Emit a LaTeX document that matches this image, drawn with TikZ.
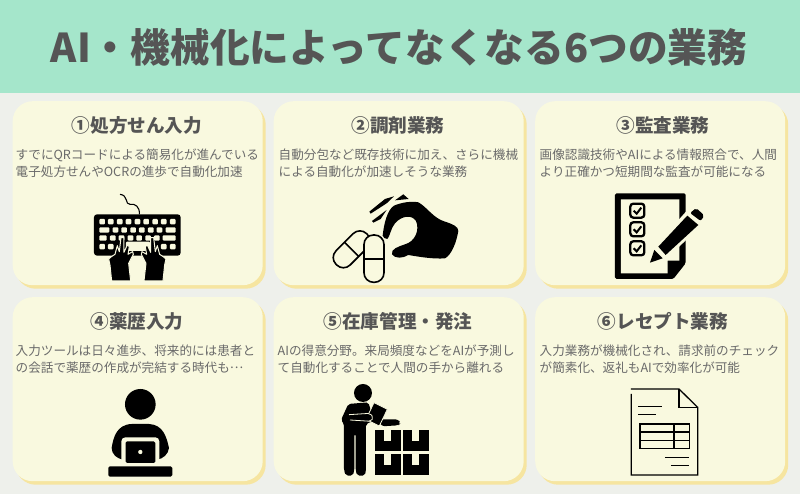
\documentclass[tikz,border=0pt]{standalone}
\usepackage{fontspec}
\setmainfont{Noto Sans CJK JP}
\definecolor{headerbg}{HTML}{A5E6CB}
\definecolor{pagebg}{HTML}{EEF0EB}
\definecolor{cardbg}{HTML}{F9F9DF}
\definecolor{cardedge}{HTML}{F6E5A0}
\definecolor{headtxt}{HTML}{555555}
\definecolor{bodytxt}{HTML}{6A6A6A}
\tikzset{
  cardbox/.style={fill=cardbg, rounded corners=20pt, minimum width=250pt, minimum height=184pt, inner sep=0pt, anchor=north west},
  cardshadow/.style={cardbox, fill=cardedge},
  headlabel/.style={text=headtxt, inner sep=0pt, font=\fontsize{18.6}{20}\selectfont\bfseries},
  bodylabel/.style={text=bodytxt, inner sep=0pt, anchor=west, align=left, font=\fontsize{12.6}{17}\selectfont},
  keycap/.style={fill=cardbg, rounded corners=1pt},
  handshape/.style={fill=black, draw=cardbg, line width=1pt, line join=round},
  pillshape/.style={draw=black, line width=1.6pt, fill=cardbg},
  thinline/.style={draw=black, line width=1.3pt}
}
\begin{document}
\begin{tikzpicture}[x=1pt,y=-1pt]
  \useasboundingbox (0,0) rectangle (800,494);
  \fill[pagebg] (0,0) rectangle (800,494);
  \fill[headerbg] (0,0) rectangle (800,93);
  \node[text=headtxt, inner sep=0pt, font=\fontsize{39.7}{42}\selectfont\bfseries] (title) at (399,47) {AI・機械化によってなくなる6つの業務};

  % cards
  \foreach \n/\cardx/\cardy/\headx/\bodyx/\headtext/\bodytext in {
    1/12.5/101/137/15.5/{①処方せん入力}/{すでにQRコードによる簡易化が進んでいる\\電子処方せんやOCRの進歩で自動化加速},
    2/273.5/101/398/278.5/{②調剤業務}/{自動分包など既存技術に加え、さらに機械\\による自動化が加速しそうな業務},
    3/535/101/663/539.5/{③監査業務}/{画像認識技術やAIによる情報照合で、人間\\より正確かつ短期間な監査が可能になる},
    4/12.5/297/137/15.5/{④薬歴入力}/{入力ツールは日々進歩、将来的には患者と\\の会話で薬歴の作成が完結する時代も\raisebox{0.36em}{…}},
    5/273.5/297/398/277.5/{⑤在庫管理・発注}/{AIの得意分野。来局頻度などをAIが予測し\\て自動化することで人間の手から離れる},
    6/535/297/663/539.5/{⑥レセプト業務}/{入力業務が機械化され、請求前のチェック\\が簡素化、返礼もAIで効率化が可能}}
  {
    \node[cardshadow] (shadow\n) at (\cardx+3,\cardy+3.5) {};
    \node[cardbox] (card\n) at (\cardx,\cardy) {};
    \node[headlabel] (head\n) at (\headx,\cardy+24) {\headtext};
    \node[bodylabel] (body\n) at (\bodyx,\cardy+62.5) {\bodytext};
  }

  % keyboard
  \begin{scope}[shift={(0,95)},x=0.3333pt,y=-0.3333pt]
    \draw[black, line width=1.1pt] (418,358) .. controls (420,335) and (405,325) .. (390,328) .. controls (375,330) and (385,300) .. (360,298);
    \fill[black, rounded corners=3pt] (282,358) rectangle (542,482);
    \foreach \kx in {298,324,351,377,404,430,457,483,510}
      \fill[keycap] (\kx,372) rectangle ++(17,16);
    \foreach \kx/\kw in {298/30,338/17,364/17,391/17,417/17,444/17,470/17,497/30}
      \fill[keycap] (\kx,397) rectangle ++(\kw,16);
    \foreach \kx/\kw in {298/22,330/17,356/17,383/17,409/17,436/17,462/17,488/39}
      \fill[keycap] (\kx,421) rectangle ++(\kw,16);
    \foreach \kx in {298,324,483,510}
      \fill[keycap] (\kx,447) rectangle ++(17,16);
    \fill[keycap] (378,440) rectangle (450,468);
    \foreach \hs/\hx in {1/0,-1/824} {
      \begin{scope}[shift={(\hx,0)},xscale=\hs]
        \path[handshape] (335,558) -- (330,510) -- (326,492) -- (333,486) -- (345,478) -- (352,452) -- (358,470) -- (363,428) -- (372,428) -- (372,472) -- (382,450) -- (388,455) -- (384,478) -- (398,470) -- (400,478) -- (386,505) -- (392,558) -- cycle;
      \end{scope}
    }
  \end{scope}

  % pinching hand and capsules
  \begin{scope}[shift={(270,95)},x=0.3333pt,y=-0.3333pt]
    \fill[black] (338,422) .. controls (342,385) and (352,345) .. (372,332) .. controls (395,322) and (425,318) .. (445,322) .. controls (470,335) and (490,370) .. (525,380) .. controls (550,388) and (565,395) .. (565,408) .. controls (560,440) and (545,480) .. (525,490) .. controls (490,493) and (445,485) .. (415,480) .. controls (400,490) and (375,492) .. (366,478) .. controls (362,462) and (385,455) .. (405,448) .. controls (435,440) and (450,405) .. (438,378) .. controls (425,358) and (395,362) .. (375,385) .. controls (362,400) and (360,425) .. (352,432) .. controls (345,432) and (340,428) .. (338,422) -- cycle;
    \fill[black] (298,350) -- (345,312) -- (372,304) -- (350,325) -- (302,356) -- cycle;
    \fill[black] (306,378) -- (350,345) -- (332,372) -- (310,383) -- cycle;
    \fill[black] (375,316) -- (400,298) -- (416,312) -- cycle;
    \draw[pillshape, rotate around={45:(245,463)}, rounded corners=9.5pt] (180,433) rectangle (310,493);
    \draw[black, line width=1.6pt] (224,442) -- (266,484);
    \draw[pillshape, rounded corners=9.5pt] (282,420) rectangle (342,562);
    \draw[black, line width=1.2pt] (282,492) -- (342,492);
  \end{scope}

  % checklist and pencil
  \begin{scope}[shift={(530,95)},x=0.3333pt,y=-0.3333pt]
    \fill[black, rounded corners=1.5pt] (255,295) -- (467,295) -- (467,505) -- (430,552) -- (255,552) -- cycle;
    \fill[cardbg] (273,313) -- (448,313) -- (448,497) -- (413,497) -- (413,535) -- (273,535) -- cycle;
    \foreach \cy in {347,403,460} {
      \draw[black, line width=2.3pt, rounded corners=3pt] (301,\cy-21) rectangle (343,\cy+21);
      \draw[black, line width=2pt] (311,\cy) -- (320,\cy+9) -- (334,\cy-9);
    }
    \fill[cardbg] (352,512) -- (372,458) -- (490,325) -- (540,365) -- (412,490) -- cycle;
    \fill[black] (360,503) -- (373,465) -- (398,490) -- cycle;
    \fill[black] (385,455) -- (472,362) -- (505,390) -- (407,480) -- cycle;
    \fill[black, rounded corners=2pt] (480,354) -- (499,339) -- (523,362) -- (512,378) -- cycle;
  \end{scope}

  % person at laptop
  \begin{scope}[shift={(0,294)},x=0.3333pt,y=-0.3333pt]
    \fill[black] (421,331) circle (46);
    \fill[black] (335,462) .. controls (340,430) and (350,392) .. (395,390) -- (447,390) .. controls (490,392) and (500,430) .. (507,462) .. controls (505,480) and (490,495) .. (470,497) -- (372,497) .. controls (350,495) and (335,480) .. (335,462) -- cycle;
    \fill[cardbg, rounded corners=4pt] (364,430) -- (478,430) -- (478,512) -- (364,512) -- cycle;
    \fill[black, rounded corners=1.5pt] (377,442) rectangle (466,507);
    \fill[cardbg] (421,474) circle (6.5);
    \fill[black, rounded corners=1.5pt] (325,517) rectangle (517,548);
  \end{scope}

  % worker and boxes
  \begin{scope}[shift={(270,294)},x=0.3333pt,y=-0.3333pt]
    \fill[black] (279,297) circle (27);
    \fill[black, rounded corners=2pt] (213,378) -- (235,330) -- (295,325) -- (312,380) -- (288,390) -- (288,530) -- (284,545) -- (262,545) -- (257,530) -- (257,420) -- (253,420) -- (253,530) -- (248,545) -- (228,545) -- (222,530) -- (222,390) -- cycle;
    \fill[black, rounded corners=3pt] (325,376) -- (385,376) -- (392,388) -- (385,394) -- (335,397) -- cycle;
    \path[fill=black, draw=cardbg, line width=0.8pt, line join=round] (312,326) -- (352,346) -- (328,396) -- (288,376) -- cycle;
    \path[fill=black, draw=cardbg, line width=0.8pt, rounded corners=2pt] (237,362) -- (300,358) -- (310,370) -- (303,382) -- (240,378);
    \foreach \bx/\by in {314/408,398/408,314/480,398/480} {
      \fill[black] (\bx,\by) rectangle ++(79,64);
      \fill[cardbg] (\bx+28,\by) rectangle ++(20,32);
    }
  \end{scope}

  % receipt sheet
  \begin{scope}[shift={(530,294)},x=0.3333pt,y=-0.3333pt]
    \draw[thinline] (303,285) -- (447,285) -- (503,340) -- (503,543) -- (304,543) -- (304,300);
    \draw[thinline] (447,285) -- (447,340) -- (503,340);
    \draw[thinline] (325,337) -- (397,337);
    \draw[thinline] (325,362) -- (378,362);
    \draw[thinline] (330,390) rectangle (478,463);
    \draw[thinline] (330,414) -- (478,414);
    \draw[thinline] (330,439) -- (478,439);
    \draw[thinline] (432,390) -- (432,463);
    \draw[thinline] (405,490) -- (477,490);
    \draw[thinline] (423,514) -- (477,514);
  \end{scope}
\end{tikzpicture}
\end{document}
